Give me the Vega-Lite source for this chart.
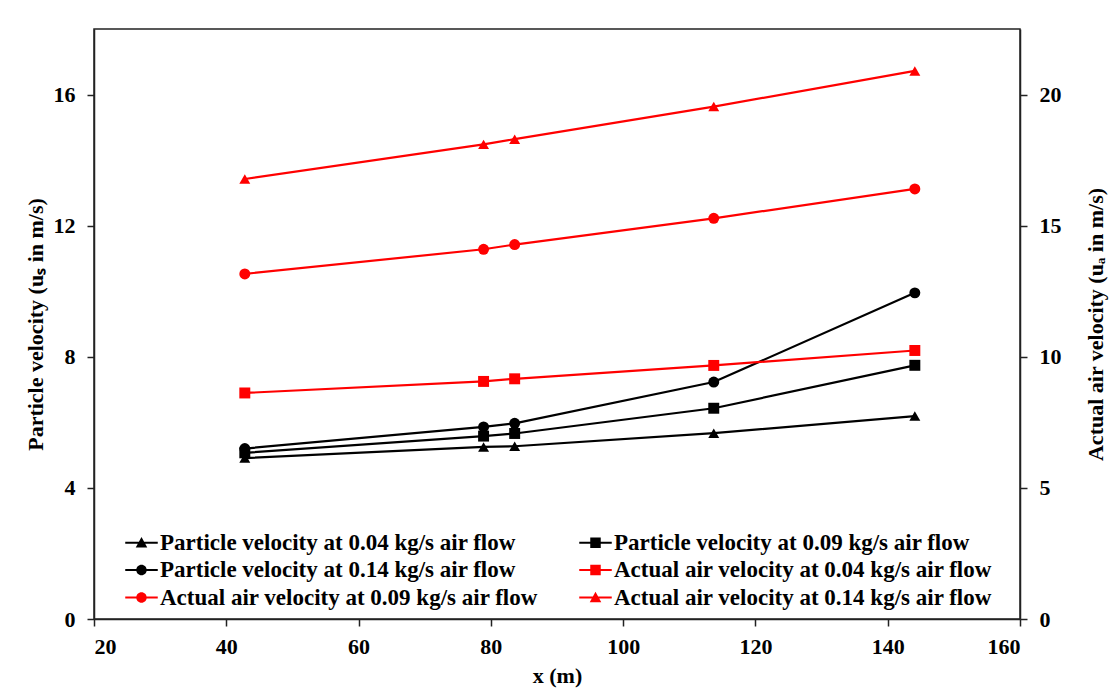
{
  "$schema": "https://vega.github.io/schema/vega-lite/v6.json",
  "width": 926,
  "height": 590,
  "autosize": {"type": "none"},
  "padding": {"left": 94, "top": 29, "right": 91, "bottom": 79},
  "background": "white",
  "config": {
    "font": "Liberation Serif",
    "view": {"stroke": "#222", "strokeWidth": 1.5},
    "axis": {
      "labelFont": "Liberation Serif", "labelFontWeight": "bold", "labelFontSize": 22, "labelColor": "#000",
      "titleFont": "Liberation Serif", "titleFontWeight": "bold", "titleFontSize": 22, "titleColor": "#000",
      "grid": false, "tickColor": "#222", "domainColor": "#222", "tickSize": 7, "domainWidth": 1.5, "tickWidth": 1.5,
      "labelPadding": 12
    },
    "legend": {
      "orient": "none", "legendX": 36, "legendY": 502, "columns": 2, "direction": "horizontal", "columnPadding": 40, "rowPadding": 3.5,
      "labelFont": "Liberation Serif", "labelFontWeight": "bold", "labelFontSize": 23, "labelColor": "#000",
      "symbolSize": 110, "labelOffset": 7, "padding": 0, "symbolStrokeWidth": 0, "labelLimit": 600
    }
  },
  "datasets": {
    "particle": [
      {"x": 42.8, "v": 4.91, "series": "Particle velocity at 0.04 kg/s air flow"},
      {"x": 78.9, "v": 5.25, "series": "Particle velocity at 0.04 kg/s air flow"},
      {"x": 83.6, "v": 5.27, "series": "Particle velocity at 0.04 kg/s air flow"},
      {"x": 113.7, "v": 5.67, "series": "Particle velocity at 0.04 kg/s air flow"},
      {"x": 144.1, "v": 6.19, "series": "Particle velocity at 0.04 kg/s air flow"},
      {"x": 42.8, "v": 5.07, "series": "Particle velocity at 0.09 kg/s air flow"},
      {"x": 78.9, "v": 5.58, "series": "Particle velocity at 0.09 kg/s air flow"},
      {"x": 83.6, "v": 5.66, "series": "Particle velocity at 0.09 kg/s air flow"},
      {"x": 113.7, "v": 6.43, "series": "Particle velocity at 0.09 kg/s air flow"},
      {"x": 144.1, "v": 7.74, "series": "Particle velocity at 0.09 kg/s air flow"},
      {"x": 42.8, "v": 5.2, "series": "Particle velocity at 0.14 kg/s air flow"},
      {"x": 78.9, "v": 5.86, "series": "Particle velocity at 0.14 kg/s air flow"},
      {"x": 83.6, "v": 5.97, "series": "Particle velocity at 0.14 kg/s air flow"},
      {"x": 113.7, "v": 7.23, "series": "Particle velocity at 0.14 kg/s air flow"},
      {"x": 144.1, "v": 9.95, "series": "Particle velocity at 0.14 kg/s air flow"}
    ],
    "air": [
      {"x": 42.8, "v": 8.62, "series": "Actual air velocity at 0.04 kg/s air flow"},
      {"x": 78.9, "v": 9.06, "series": "Actual air velocity at 0.04 kg/s air flow"},
      {"x": 83.6, "v": 9.16, "series": "Actual air velocity at 0.04 kg/s air flow"},
      {"x": 113.7, "v": 9.67, "series": "Actual air velocity at 0.04 kg/s air flow"},
      {"x": 144.1, "v": 10.24, "series": "Actual air velocity at 0.04 kg/s air flow"},
      {"x": 42.8, "v": 13.16, "series": "Actual air velocity at 0.09 kg/s air flow"},
      {"x": 78.9, "v": 14.1, "series": "Actual air velocity at 0.09 kg/s air flow"},
      {"x": 83.6, "v": 14.28, "series": "Actual air velocity at 0.09 kg/s air flow"},
      {"x": 113.7, "v": 15.28, "series": "Actual air velocity at 0.09 kg/s air flow"},
      {"x": 144.1, "v": 16.4, "series": "Actual air velocity at 0.09 kg/s air flow"},
      {"x": 42.8, "v": 16.78, "series": "Actual air velocity at 0.14 kg/s air flow"},
      {"x": 78.9, "v": 18.1, "series": "Actual air velocity at 0.14 kg/s air flow"},
      {"x": 83.6, "v": 18.3, "series": "Actual air velocity at 0.14 kg/s air flow"},
      {"x": 113.7, "v": 19.54, "series": "Actual air velocity at 0.14 kg/s air flow"},
      {"x": 144.1, "v": 20.9, "series": "Actual air velocity at 0.14 kg/s air flow"}
    ]
  },
  "layer": [
    {
      "data": {"name": "particle"},
      "encoding": {
        "x": {"field": "x", "type": "quantitative", "scale": {"domain": [20, 160], "nice": false},
              "axis": {"values": [20, 40, 60, 80, 100, 120, 140, 160], "title": "x (m)", "titlePadding": 8, "labelPadding": 10}},
        "y": {"field": "v", "type": "quantitative", "scale": {"domain": [0, 18], "nice": false},
              "axis": {"orient": "left", "values": [0, 4, 8, 12, 16], "title": "Particle velocity (uₛ in m/s)", "titlePadding": 6}}
      },
      "layer": [
        {"mark": {"type": "line", "color": "#000", "strokeWidth": 2.2}, "encoding": {"detail": {"field": "series"}}},
        {"mark": {"type": "point", "filled": true, "color": "#000", "size": 120, "opacity": 1},
         "encoding": {"shape": {"field": "series", "type": "nominal",
           "scale": {"domain": ["Particle velocity at 0.04 kg/s air flow", "Particle velocity at 0.09 kg/s air flow", "Particle velocity at 0.14 kg/s air flow"],
                     "range": ["triangle-up", "square", "circle"]}, "legend": null}}}
      ]
    },
    {
      "data": {"name": "air"},
      "encoding": {
        "x": {"field": "x", "type": "quantitative", "scale": {"domain": [20, 160], "nice": false},
              "axis": {"values": [20, 40, 60, 80, 100, 120, 140, 160], "title": "x (m)", "titlePadding": 8, "labelPadding": 10}},
        "y": {"field": "v", "type": "quantitative", "scale": {"domain": [0, 22.5], "nice": false},
              "axis": {"orient": "right", "values": [0, 5, 10, 15, 20], "title": "Actual air velocity (uₐ in m/s)", "titleAngle": -90, "titlePadding": 46}}
      },
      "layer": [
        {"mark": {"type": "line", "color": "#ff0000", "strokeWidth": 2.2}, "encoding": {"detail": {"field": "series"}}},
        {"mark": {"type": "point", "filled": true, "color": "#ff0000", "size": 120, "opacity": 1},
         "encoding": {"shape": {"field": "series", "type": "nominal",
           "scale": {"domain": ["Actual air velocity at 0.04 kg/s air flow", "Actual air velocity at 0.09 kg/s air flow", "Actual air velocity at 0.14 kg/s air flow"],
                     "range": ["square", "circle", "triangle-up"]}, "legend": null}}}
      ]
    },
    {
      "data": {"name": "particle"},
      "transform": [{"filter": "false"}],
      "mark": {"type": "point", "filled": true, "opacity": 1},
      "encoding": {
        "shape": {"field": "series", "type": "nominal",
          "scale": {"domain": ["Particle velocity at 0.04 kg/s air flow", "Particle velocity at 0.09 kg/s air flow", "Particle velocity at 0.14 kg/s air flow", "Actual air velocity at 0.04 kg/s air flow", "Actual air velocity at 0.09 kg/s air flow", "Actual air velocity at 0.14 kg/s air flow"],
                    "range": [
                      "M-3.1,-0.2H3.1V0.2H-3.1ZM0,-1.1L1.1,0.9H-1.1Z",
                      "M-3.1,-0.2H3.1V0.2H-3.1ZM-1,-1H1V1H-1Z",
                      "M-3.1,-0.2H3.1V0.2H-3.1ZM1,0A1,1,0,1,1,-1,0A1,1,0,1,1,1,0Z",
                      "M-3.1,-0.2H3.1V0.2H-3.1ZM-1,-1H1V1H-1Z",
                      "M-3.1,-0.2H3.1V0.2H-3.1ZM1,0A1,1,0,1,1,-1,0A1,1,0,1,1,1,0Z",
                      "M-3.1,-0.2H3.1V0.2H-3.1ZM0,-1.1L1.1,0.9H-1.1Z"
                    ]},
          "legend": {"title": null}},
        "color": {"field": "series", "type": "nominal",
          "scale": {"domain": ["Particle velocity at 0.04 kg/s air flow", "Particle velocity at 0.09 kg/s air flow", "Particle velocity at 0.14 kg/s air flow", "Actual air velocity at 0.04 kg/s air flow", "Actual air velocity at 0.09 kg/s air flow", "Actual air velocity at 0.14 kg/s air flow"],
                    "range": ["#000", "#000", "#000", "#ff0000", "#ff0000", "#ff0000"]},
          "legend": {"title": null}}
      }
    }
  ],
  "resolve": {"scale": {"y": "independent", "shape": "independent", "color": "independent"}}
}
